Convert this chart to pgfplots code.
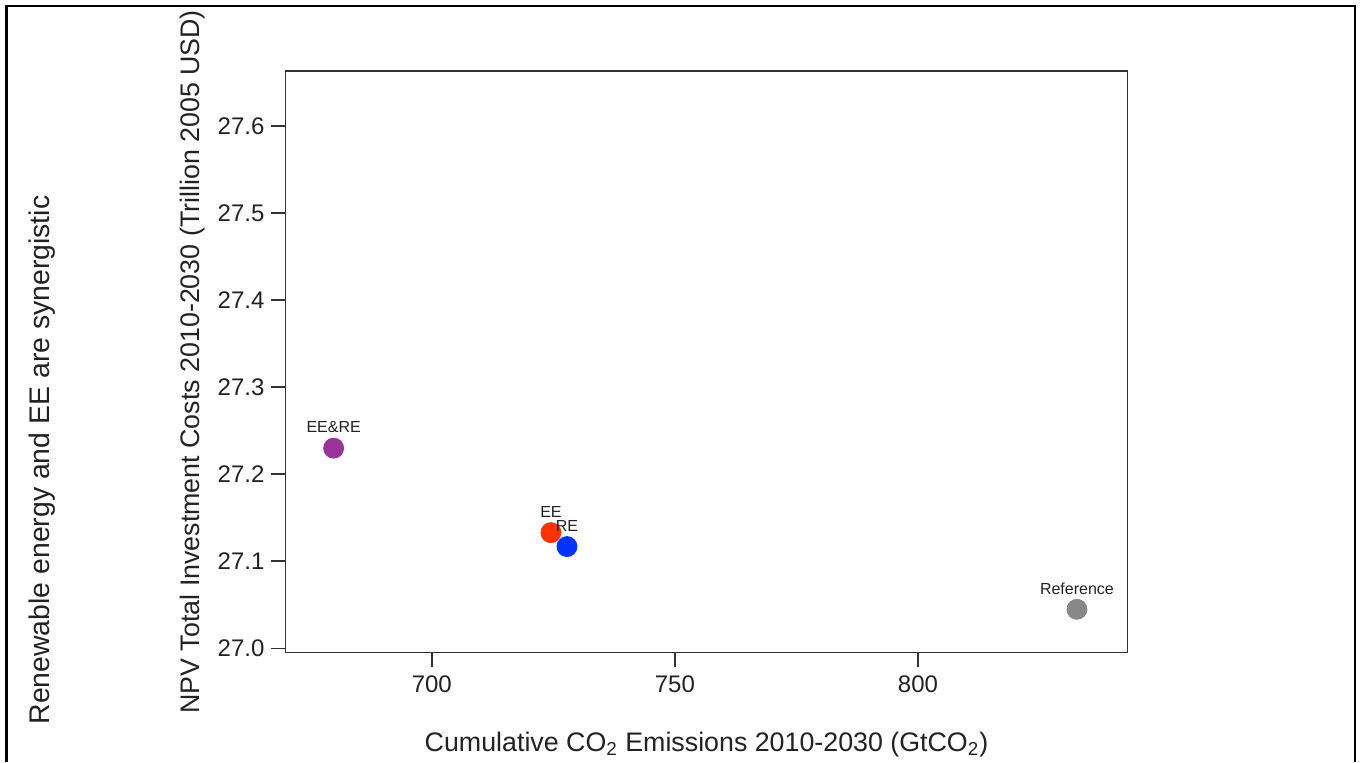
\documentclass[border=0pt]{standalone}
\usepackage{fontspec}
\setmainfont{Liberation Sans}
\usepackage{pgfplots}
\pgfplotsset{compat=1.18}
\definecolor{cpurple}{HTML}{993399}
\definecolor{cred}{HTML}{FF3300}
\definecolor{cblue}{HTML}{0033FF}
\definecolor{cgray}{HTML}{888888}
\definecolor{txt}{HTML}{222222}
\begin{document}
\begin{tikzpicture}
\useasboundingbox (0,0) rectangle (681pt,381pt);
\draw[line width=1.25pt] (3.25pt,0) -- (3.25pt,378pt) -- (677.5pt,378pt) -- (677.5pt,0);
\node[rotate=90, font=\fontsize{14.2}{16}\selectfont, text=txt] at (21pt,151pt) {Renewable energy and EE are synergistic};
\begin{axis}[
  at={(142.75pt,54.75pt)}, anchor=south west,
  scale only axis, width=421pt, height=290.75pt,
  xmin=669.9, xmax=843.1, ymin=26.9954, ymax=27.663,
  xtick={700,750,800}, ytick={27.0,27.1,27.2,27.3,27.4,27.5,27.6},
  yticklabel style={/pgf/number format/.cd, fixed, fixed zerofill, precision=1},
  /pgf/number format/assume math mode=true,
  tick align=outside, major tick length=7pt,
  xtick pos=bottom, ytick pos=left,
  axis line style={black!80, line width=0.9pt},
  every tick/.style={black!80, line width=0.9pt},
  tick label style={font=\fontsize{12}{14}\selectfont, text=txt},
  xticklabel style={yshift=-1pt},
  label style={font=\fontsize{13.4}{15}\selectfont, text=txt},
  xlabel={Cumulative CO\textsubscript{2} Emissions 2010-2030 (GtCO\textsubscript{2})},
  ylabel={NPV Total Investment Costs 2010-2030 (Trillion 2005 USD)},
  xlabel style={at={(axis description cs:0.5,-0.158)}, anchor=center},
  ylabel style={at={(axis description cs:-0.1105,0.5)}, anchor=center},
  clip=false,
  nodes near coords, point meta=explicit symbolic,
  every node near coord/.style={anchor=center, yshift=10.5pt, font=\fontsize{8}{9}\selectfont, text=txt},
]
\addplot[only marks, mark=*, mark size=5pt, color=cpurple] coordinates {(679.8,27.230) [EE\&RE]};
\addplot[only marks, mark=*, mark size=5pt, color=cred] coordinates {(724.5,27.133) [EE]};
\addplot[only marks, mark=*, mark size=5pt, color=cblue] coordinates {(727.8,27.117) [RE]};
\addplot[only marks, mark=*, mark size=5pt, color=cgray] coordinates {(832.7,27.045) [Reference]};
\end{axis}
\end{tikzpicture}
\end{document}
